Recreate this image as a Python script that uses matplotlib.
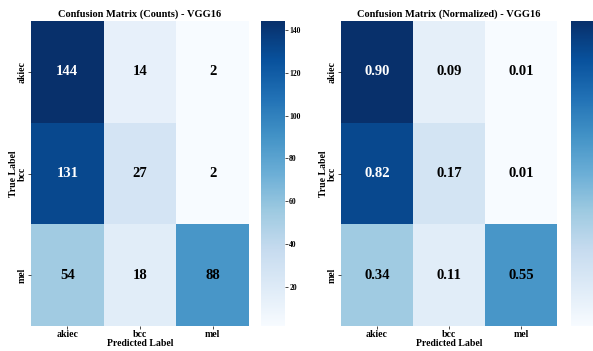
import numpy as np
import matplotlib
matplotlib.use('Agg')
import matplotlib.pyplot as plt
import seaborn as sns

class_names = ['akiec', 'bcc', 'mel']
cm_counts = np.array([[144, 14, 2],
                      [131, 27, 2],
                      [54, 18, 88]])
cm_norm = np.array([[0.90, 0.09, 0.01],
                    [0.82, 0.17, 0.01],
                    [0.34, 0.11, 0.55]])

plt.rcParams['font.family'] = 'Liberation Serif'
plt.rcParams['font.weight'] = 'bold'

W, H = 593.0, 351.0
fig = plt.figure(figsize=(W / 100, H / 100), dpi=100)


def box(x0, x1, y0, y1):
    # pixel box -> figure fraction
    return [x0 / W, 1 - y1 / H, (x1 - x0) / W, (y1 - y0) / H]


ax1 = fig.add_axes(box(31, 249, 21, 326))
cax1 = fig.add_axes(box(261, 285, 21, 326))
ax2 = fig.add_axes(box(341, 557, 21, 326))
cax2 = fig.add_axes(box(571, 595, 21, 326))

panels = [(ax1, cax1, cm_counts, 'd', 'Confusion Matrix (Counts) - VGG16'),
          (ax2, cax2, cm_norm, '.2f', 'Confusion Matrix (Normalized) - VGG16')]

for ax, cax, data, fmt, title in panels:
    sns.heatmap(data, annot=True, fmt=fmt, cmap='Blues', ax=ax, cbar_ax=cax,
                xticklabels=class_names, yticklabels=class_names,
                annot_kws={'fontsize': 10.5, 'fontweight': 'bold'})
    # white text only on the darkest cells
    lo, hi = data.min(), data.max()
    for txt, v in zip(ax.texts, data.ravel()):
        txt.set_color('white' if (v - lo) / (hi - lo) > 0.7 else 'black')
    ax.set_title(title, fontsize=7.5, fontweight='bold', pad=3)
    ax.set_xlabel('Predicted Label', fontsize=7, fontweight='bold')
    ax.set_ylabel('True Label', fontsize=7, fontweight='bold')
    ax.xaxis.set_label_coords(0.5, -0.042)
    ax.yaxis.set_label_coords(-0.06, 0.5)
    ax.tick_params(axis='both', labelsize=7, length=2, width=0.5, pad=1)
    plt.setp(ax.get_yticklabels(), rotation=90, va='center')
    plt.setp(ax.get_xticklabels(), rotation=0)
    cax.tick_params(labelsize=5.5, length=2, width=0.5, pad=1)
    for lab in cax.get_yticklabels():
        lab.set_fontweight('bold')

plt.savefig('out.png', dpi=100)
